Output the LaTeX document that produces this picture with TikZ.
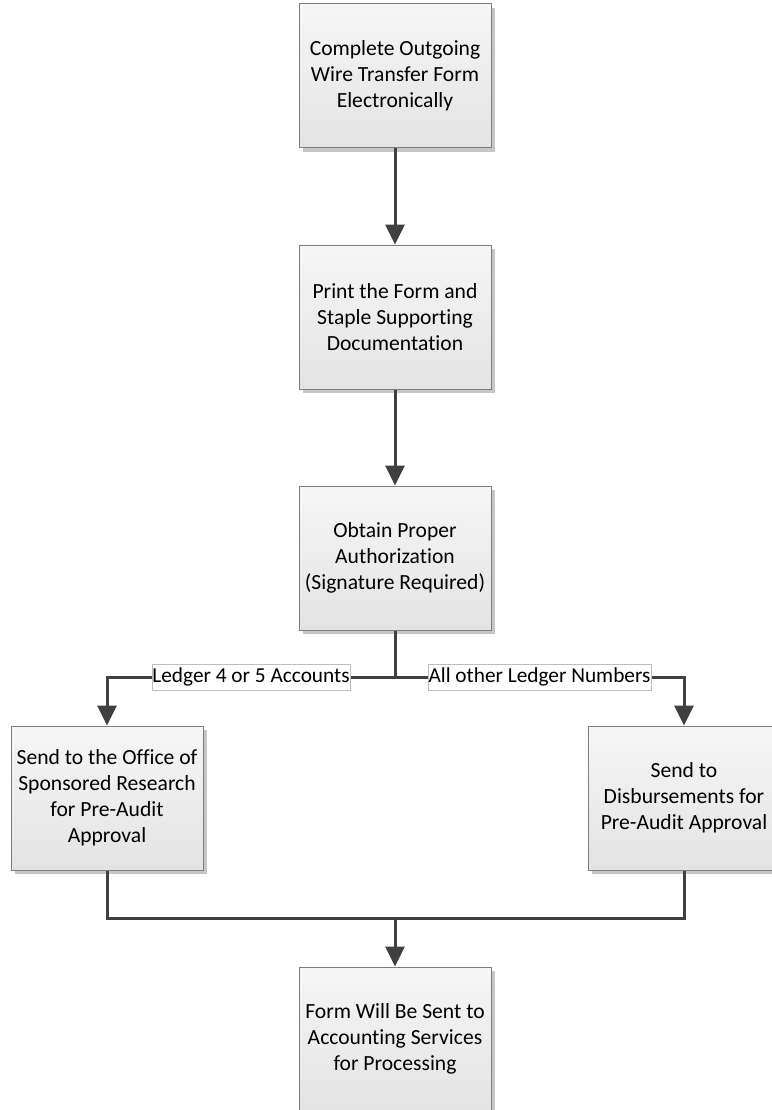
\documentclass[tikz,border=0pt]{standalone}
\usepackage{fontspec}
\setmainfont[Ligatures={NoCommon}]{Carlito}
\usetikzlibrary{arrows.meta,shadows}
\definecolor{linec}{RGB}{64,64,64}
\definecolor{boxborder}{RGB}{125,125,125}
\definecolor{labborder}{RGB}{190,190,190}
\tikzset{
  procbox/.style={rectangle, draw=boxborder, line width=1pt,
    top color=gray!7, bottom color=gray!22,
    minimum width=192pt, minimum height=144pt, align=center,
    inner sep=0pt, font=\fontsize{21.6}{26}\selectfont, text=black,
    drop shadow={shadow xshift=4pt, shadow yshift=-4pt, fill=gray!45, opacity=1}},
  conn/.style={draw=linec, line width=3pt},
  arr/.style={conn, -{Triangle[length=20pt,width=19pt]}},
  lab/.style={fill=white, draw=labborder, line width=0.8pt, inner xsep=0.5pt, inner ysep=0pt,
    minimum height=26pt, font=\fontsize{21.3}{26}\selectfont, text=black}
}
\begin{document}
\begin{tikzpicture}[x=1pt,y=-1pt]
\useasboundingbox (0,0) rectangle (771,1110);
\node[procbox] (b1) at (395,76) {Complete Outgoing\\Wire Transfer Form\\Electronically};
\node[procbox] (b2) at (395,317) {Print the Form and\\Staple Supporting\\Documentation};
\node[procbox] (b3) at (395,558) {Obtain Proper\\Authorization\\(Signature Required)};
\node[procbox] (b4) at (107,798) {Send to the Office of\\Sponsored Research\\for Pre-Audit\\Approval};
\node[procbox] (b5) at (684,798) {Send to\\Disbursements for\\Pre-Audit Approval};
\node[procbox] (b6) at (395,1039) {Form Will Be Sent to\\Accounting Services\\for Processing};
\coordinate (j1) at (395,677);
\coordinate (j2) at (395,918);
\draw[arr] (b1.south) -- (b2.north);
\draw[arr] (b2.south) -- (b3.north);
\draw[conn] (b3.south) -- (j1);
\draw[arr] (j1) -| node[lab, pos=0.25] {Ledger 4 or 5 Accounts} (b4.north);
\draw[arr] (j1) -| node[lab, pos=0.25] {All other Ledger Numbers} (b5.north);
\draw[conn] (b4.south) |- (j2) -| (b5.south);
\draw[arr] (j2) -- (b6.north);
\end{tikzpicture}
\end{document}
